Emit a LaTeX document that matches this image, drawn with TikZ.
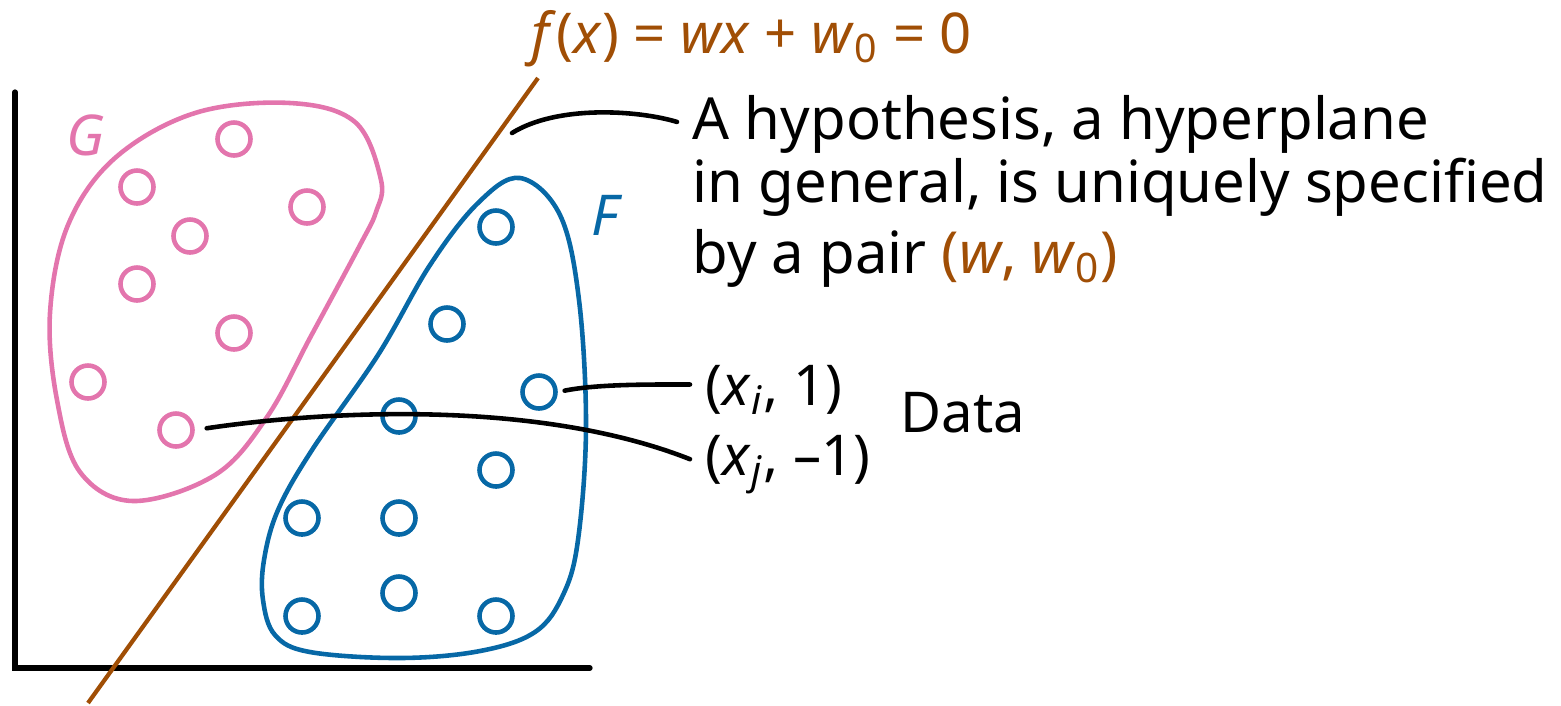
\documentclass[tikz,border=0pt]{standalone}
\usepackage{fontspec}
\setmainfont{Noto Sans}
\usepackage{xcolor}
\usetikzlibrary{positioning}
\definecolor{gpink}{RGB}{227,117,173}
\definecolor{fblue}{RGB}{7,104,166}
\definecolor{hbrown}{RGB}{160,78,5}

\begin{document}
\begin{tikzpicture}[
  x=0.01cm, y=-0.01cm,
  every node/.style={font=\fontsize{16}{18}\selectfont},
  gdot/.style={draw=gpink, circle, line width=1.3pt, minimum size=3.3mm, inner sep=0pt},
  fdot/.style={draw=fblue, circle, line width=1.3pt, minimum size=3.3mm, inner sep=0pt},
  lbl/.style={inner xsep=1.5mm, inner ysep=0pt, anchor=base west},
  lead/.style={line width=1.3pt, line cap=round},
  blob/.style={line width=1.3pt}]
  \useasboundingbox (0,0) rectangle (1561,705);
  % axes
  \coordinate (ytop) at (15,92); \coordinate (o) at (15,668); \coordinate (xend) at (590,668);
  \draw[line width=1.5pt, line cap=round] (ytop) -- (o) -- (xend);
  % hyperplane
  \coordinate (hb) at (88,703); \coordinate (ht) at (538,78);
  \draw[hbrown, line width=1.2pt] (hb) -- (ht);
  \node[anchor=base, text=hbrown] (fx) at (752,53) {\textit{f}(\textit{x}) = \textit{wx} + \textit{w}\textsubscript{0} = 0};
  % class G
  \draw[blob, gpink] plot[smooth cycle, tension=0.6] coordinates {
    (290,103) (355,122) (381,180) (376,212) (360,245) (311,336) (267,417)
    (215,475) (133,501) (80,472) (57,400) (50,313) (68,225) (115,158) (195,113)};
  \node[text=gpink] (glbl) at (86,135) {\textit{G}};
  \node[gdot] (g1) at (234,139) {};
  \node[gdot] (g2) at (137,187) {};
  \node[gdot] (g3) at (307,207) {};
  \node[gdot] (g4) at (190,236) {};
  \node[gdot] (g5) at (137,284) {};
  \node[gdot] (g6) at (234,333) {};
  \node[gdot] (g7) at (88,382) {};
  \node[gdot] (g8) at (176,430) {};
  % class F
  \draw[blob, fblue] plot[smooth cycle, tension=0.6] coordinates {
    (520,178) (560,215) (579,300) (586,427) (578,540) (563,595) (535,632) (480,651)
    (400,658) (310,652) (275,635) (263,600) (264,560) (278,510) (312,450) (378,355)
    (430,265) (478,203)};
  \node[text=fblue] (flbl) at (607,215) {\textit{F}};
  \node[fdot] (f1) at (496,227) {};
  \node[fdot] (f2) at (447,324) {};
  \node[fdot] (f3) at (539,392) {};
  \node[fdot] (f4) at (399,416) {};
  \node[fdot] (f5) at (496,470) {};
  \node[fdot] (f6) at (302,518) {};
  \node[fdot] (f7) at (399,518) {};
  \node[fdot] (f8) at (399,593) {};
  \node[fdot] (f9) at (302,616) {};
  \node[fdot] (f10) at (496,616) {};
  % labels
  \node[lbl, align=left, font=\fontsize{16.5}{18}\selectfont] (hyp) at (677,273) {A hypothesis, a hyperplane\\in general, is uniquely specified\\[2pt]by a pair \textcolor{hbrown}{(\textit{w}, \textit{w}\textsubscript{0})}};
  \node[lbl] (xi) at (690,405) {(\textit{x}\textsubscript{\textit{i}}, 1)};
  \node[lbl] (xj) at (690,475) {(\textit{x}\textsubscript{\textit{j}}, –1)};
  \node[lbl] (data) at (885,432) {Data};
  % leaders
  \coordinate (hs) at (512,133);
  \draw[lead] (hs) .. controls +(45,-28) and +(-40,-12) .. ([yshift=15.1mm]hyp.base west);
  \draw[lead, shorten <=0.7mm] (f3.east) .. controls +(40,-8) and +(-40,0) .. ([yshift=0.5mm]xi.west);
  \draw[lead, shorten <=1.2mm] (g8.east) .. controls (330,410) and (540,400) .. ([yshift=0.5mm]xj.west);
\end{tikzpicture}
\end{document}
